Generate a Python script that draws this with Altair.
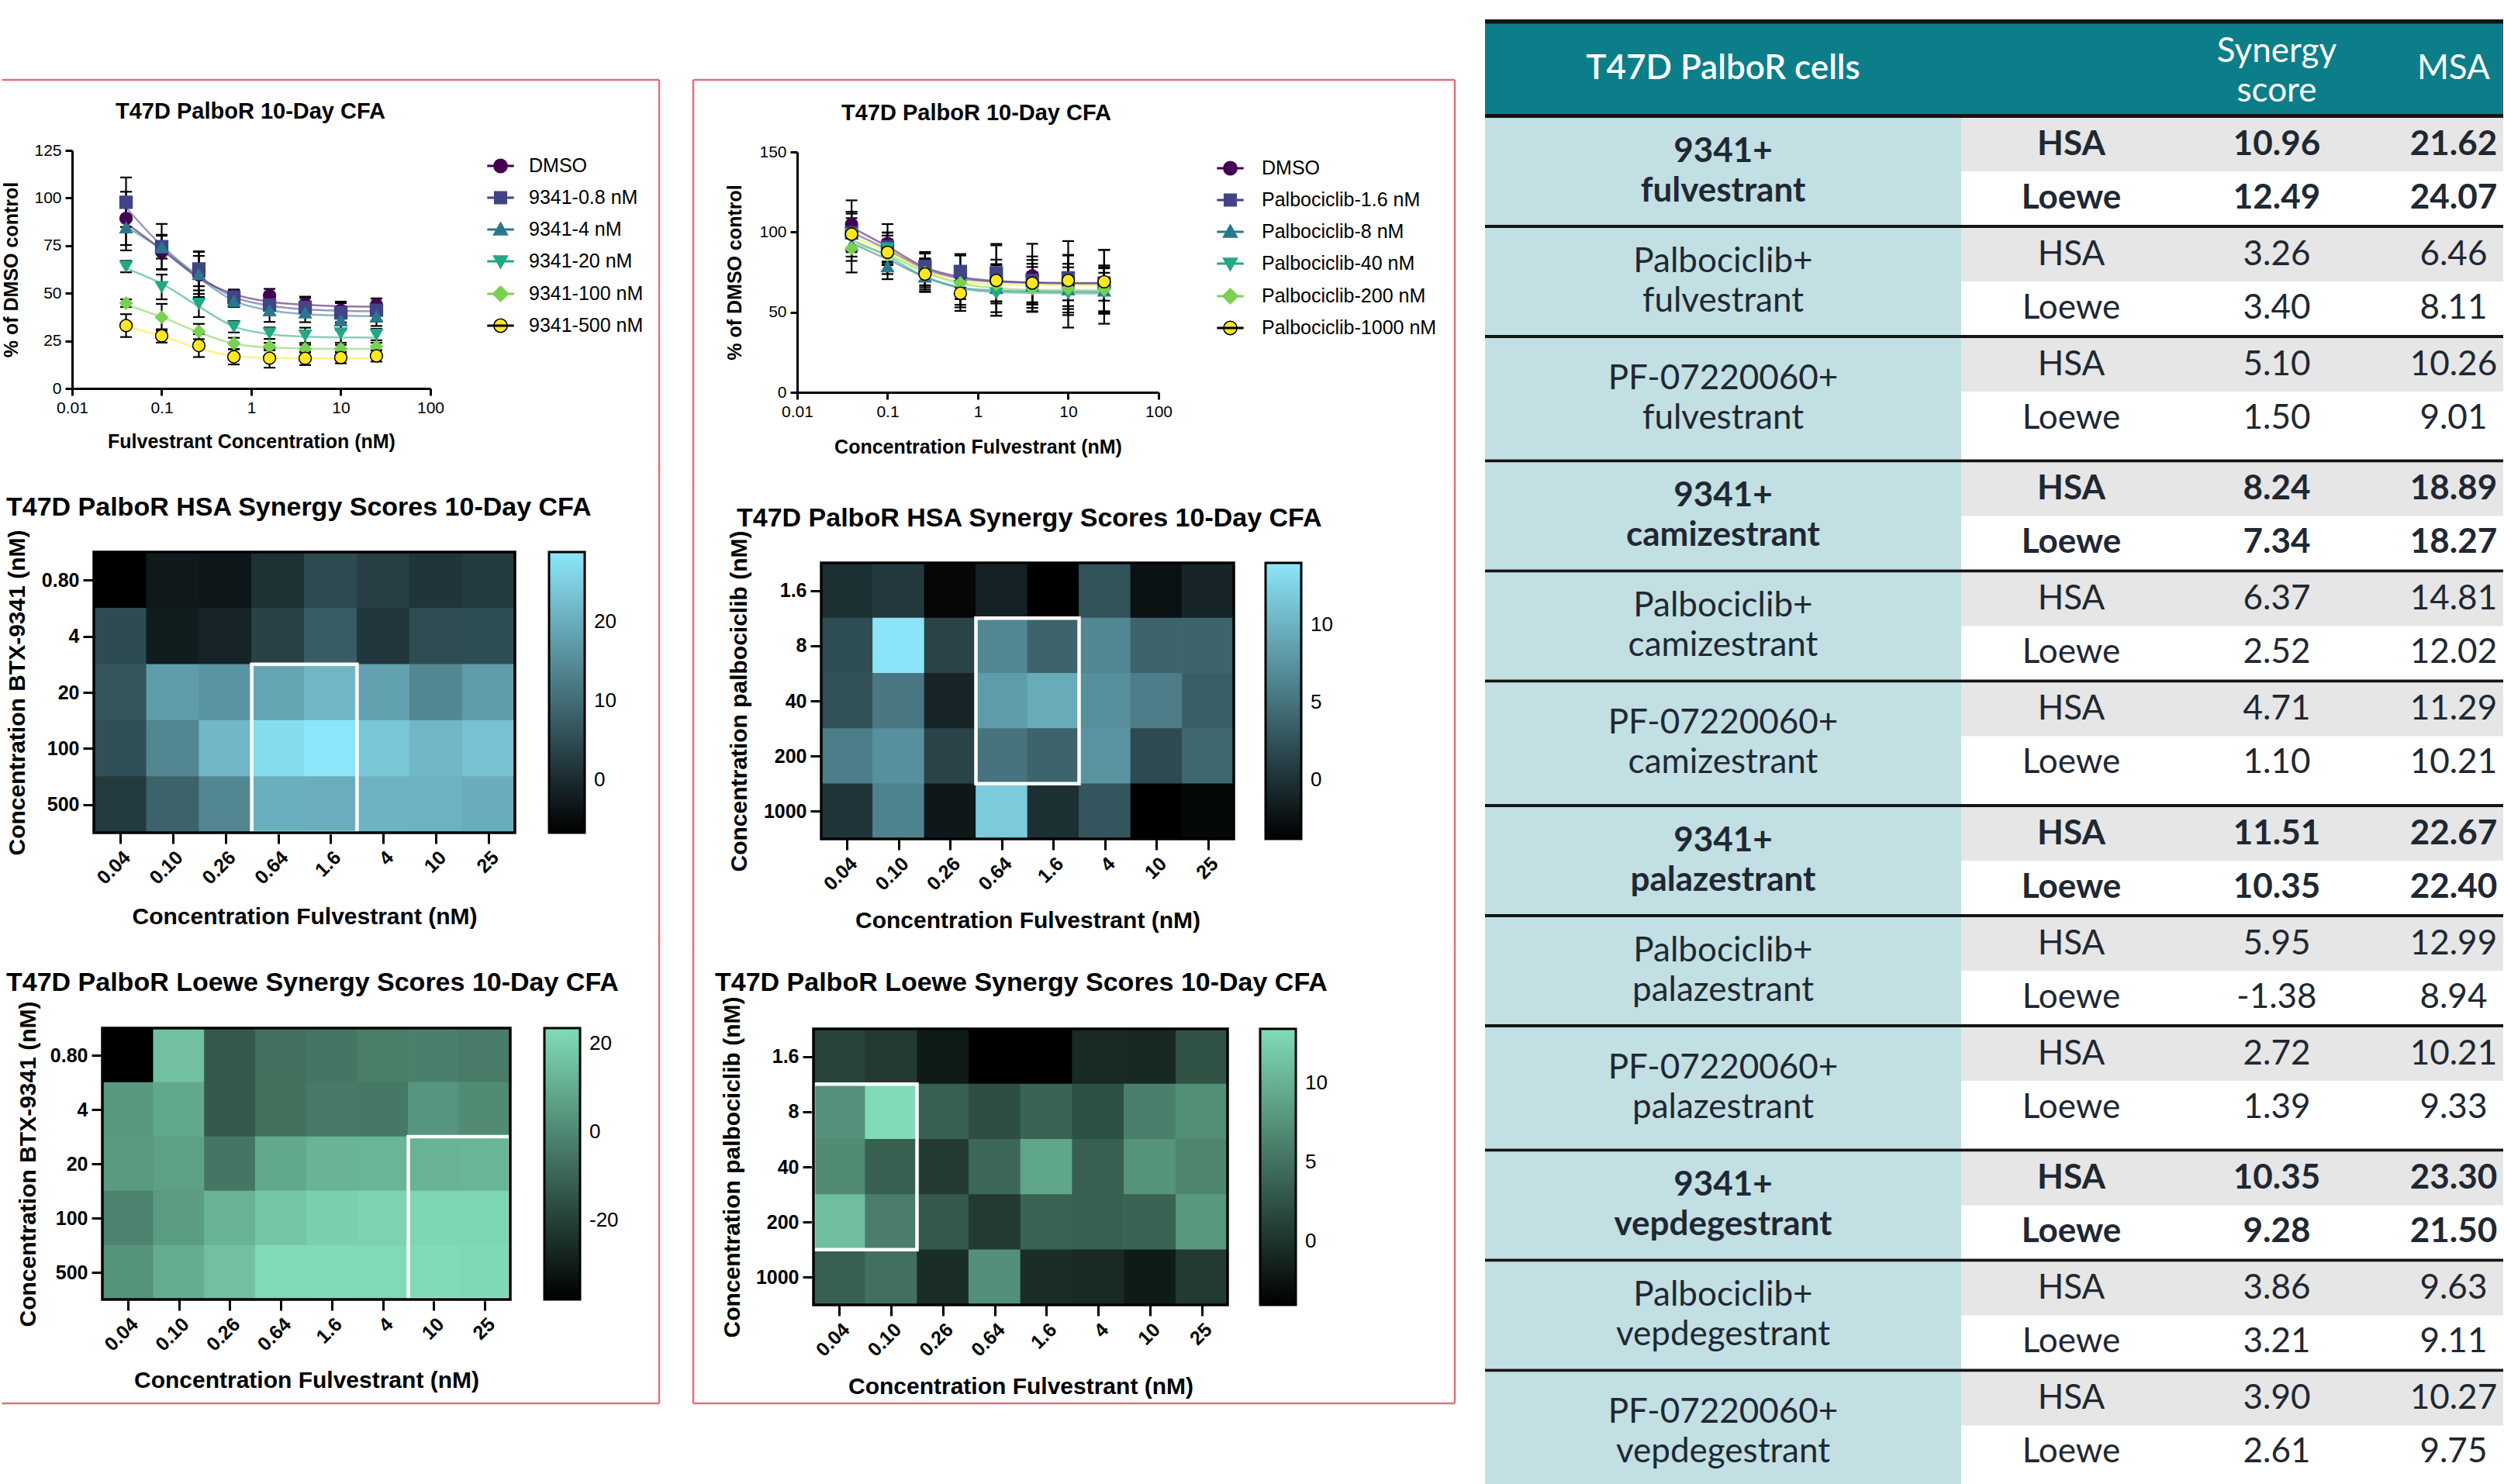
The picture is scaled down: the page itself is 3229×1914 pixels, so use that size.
import json
import altair as alt
import pandas as pd

AX_FONT = "Liberation Sans"
TB_FONT = "Lato"
PANEL_RED = "#e3707a"
INK = "#1f2833"
TEAL = "#0b7e8a"
LIGHT_BLUE = "#c2dfe3"
ROW_GREY = "#e6e6e6"

# ---------------------------------------------------------------- dose-response data
fulvestrant_nM = [0.04, 0.1, 0.26, 0.64, 1.6, 4, 10, 25]
fulvestrant_labels = ["0.04", "0.10", "0.26", "0.64", "1.6", "4", "10", "25"]

series_colors = ["#440154", "#414487", "#2a788e", "#22a884", "#7ad151", "#fde725"]
series_outline = ["#440154", "#414487", "#2a788e", "#22a884", "#7ad151", "#000000"]
marker_shapes = ["circle", "square", "triangle-up", "triangle-down", "diamond", "circle"]

btx_names = ["DMSO", "9341-0.8 nM", "9341-4 nM", "9341-20 nM", "9341-100 nM", "9341-500 nM"]
btx_mean = [
    [89.3, 71.7, 59.6, 48.8, 48.8, 44.2, 41.1, 43.8],
    [97.8, 74.4, 62.7, 47.9, 43.8, 42.5, 39.8, 41.1],
    [84.5, 74.2, 60.0, 45.8, 41.0, 39.8, 35.7, 37.8],
    [64.0, 53.3, 44.5, 32.4, 29.0, 27.9, 29.0, 28.3],
    [44.8, 37.4, 29.9, 23.6, 22.0, 20.9, 20.9, 22.0],
    [33.0, 27.6, 22.5, 16.6, 15.9, 15.8, 16.2, 17.1],
]
btx_sd = [
    [14, 9, 10, 3, 3.5, 4, 4.5, 3.5],
    [13, 12, 9, 4, 5, 5, 5, 6],
    [12, 6, 12, 3, 6, 5, 5, 5],
    [3, 6.5, 7, 3, 3, 4, 5, 3],
    [2, 7, 4, 3, 2, 2, 2, 2],
    [6, 3.5, 6, 4, 5, 3.5, 3, 3],
]
btx_fit = [
    [87, 73, 58, 49.5, 45.5, 44, 43.2, 43],
    [95, 75, 59, 48, 43.5, 41.5, 40.8, 40.5],
    [85, 73, 58, 46, 41, 39, 38.3, 38],
    [63, 55, 43, 32.5, 28.5, 27.2, 26.8, 26.7],
    [44, 37.5, 29.5, 23.5, 21.5, 21, 20.8, 20.8],
    [32.5, 27.5, 21, 17, 16, 15.8, 15.8, 15.8],
]

palbo_names = ["DMSO", "Palbociclib-1.6 nM", "Palbociclib-8 nM", "Palbociclib-40 nM",
               "Palbociclib-200 nM", "Palbociclib-1000 nM"]
palbo_mean = [
    [104.8, 93.0, 74.6, 73.3, 69.8, 72.7, 67.4, 65.8],
    [99.5, 90.6, 78.6, 75.4, 74.6, 69.8, 71.4, 68.2],
    [92.0, 78.6, 72.2, 65.0, 65.0, 66.6, 64.2, 63.4],
    [98.7, 89.8, 73.0, 66.6, 61.8, 64.2, 61.8, 62.6],
    [89.8, 85.8, 74.6, 68.2, 67.4, 65.0, 65.0, 64.2],
    [98.7, 87.4, 73.8, 61.8, 69.8, 68.2, 69.8, 69.0],
]
palbo_sd = [
    [15, 12, 12, 13, 22, 20, 27, 23],
    [12, 9, 9, 10, 18, 15, 14, 11],
    [10, 8, 8, 12, 15, 16, 16, 14],
    [14, 10, 10, 12, 14, 14, 12, 12],
    [15, 12, 9, 10, 12, 10, 13, 14],
    [10, 8, 7, 11, 13, 12, 16, 20],
]
palbo_fit = [
    [103, 91, 78, 72, 69.5, 68.5, 68, 68],
    [100, 89, 77, 71, 69, 68.5, 68.3, 68.2],
    [93, 83, 72, 65.5, 63.5, 63, 62.8, 62.7],
    [95, 85, 72, 65, 62.5, 62, 61.8, 61.7],
    [93, 86, 75, 68, 65, 64, 63.8, 63.7],
    [97, 88, 76, 69, 67.5, 67, 66.8, 66.7],
]

# ---------------------------------------------------------------- synergy matrices
btx_rows = ["0.80", "4", "20", "100", "500"]
palbo_rows = ["1.6", "8", "40", "200", "1000"]

hsa_btx = [
    [-6.7, -2.7, -3.3, 1.0, 4.7, 2.9, 1.5, 2.3],
    [4.9, -2.4, -1.1, 3.5, 7.5, 1.8, 5.0, 5.2],
    [6.4, 17.5, 16.1, 18.9, 21.7, 18.1, 14.1, 17.4],
    [5.5, 14.1, 21.6, 27.3, 28.8, 23.9, 21.4, 23.3],
    [2.3, 8.6, 14.1, 20.3, 20.2, 20.9, 20.8, 19.9],
]
loewe_btx = [
    [-37.9, 15.7, -13.1, -6.6, -5.0, -2.7, -2.2, -3.3],
    [4.5, 9.0, -13.1, -6.4, -3.8, -4.1, 4.0, 0.9],
    [5.1, 6.8, -5.0, 9.0, 12.3, 12.6, 12.1, 12.6],
    [-1.3, 5.4, 11.8, 17.1, 20.2, 21.0, 21.8, 21.8],
    [3.1, 10.4, 15.7, 22.9, 23.5, 22.9, 23.4, 22.7],
]
hsa_palbo = [
    [-0.2, 0.5, -3.3, -1.2, -3.8, 2.6, -2.4, -0.9],
    [2.2, 13.8, 1.4, 6.6, 3.8, 6.6, 3.9, 3.9],
    [2.4, 5.5, -0.9, 8.3, 9.4, 7.3, 5.9, 3.5],
    [5.9, 7.3, 1.4, 5.1, 3.9, 7.6, 1.9, 4.2],
    [0.3, 6.3, -2.0, 11.9, -0.2, 2.8, -3.8, -3.2],
]
loewe_palbo = [
    [1.4, 0.6, -1.9, -4.0, -4.0, -0.7, -0.8, 2.5],
    [7.5, 13.4, 3.6, 2.2, 3.8, 2.3, 6.1, 7.3],
    [7.0, 3.6, 0.6, 4.1, 9.1, 3.6, 7.6, 6.5],
    [11.0, 6.0, 3.1, 0.6, 3.8, 3.6, 3.8, 8.0],
    [3.6, 4.9, -0.4, 7.4, -0.4, -0.7, -1.9, 0.6],
]

# ---------------------------------------------------------------- summary table
partners = ["fulvestrant", "camizestrant", "palazestrant", "vepdegestrant"]
combos = ["9341+", "Palbociclib+", "PF-07220060+"]
hsa_score = [10.96, 3.26, 5.10, 8.24, 6.37, 4.71, 11.51, 5.95, 2.72, 10.35, 3.86, 3.90]
loewe_score = [12.49, 3.40, 1.50, 7.34, 2.52, 1.10, 10.35, -1.38, 1.39, 9.28, 3.21, 2.61]
hsa_msa = [21.62, 6.46, 10.26, 18.89, 14.81, 11.29, 22.67, 12.99, 10.21, 23.30, 9.63, 10.27]
loewe_msa = [24.07, 8.11, 9.01, 18.27, 12.02, 10.21, 22.40, 8.94, 9.33, 21.50, 9.11, 9.75]

ONE = pd.DataFrame({"k": [0]})


# ---------------------------------------------------------------- decoration helpers
def vrule(x, y0, y1, show=True):
    return alt.Chart(ONE).mark_rule(color=PANEL_RED, strokeWidth=2.5, opacity=1 if show else 0).encode(
        x=alt.value(x), y=alt.value(y0), y2=alt.value(y1))


def hrule(y, x0, x1, show=True):
    return alt.Chart(ONE).mark_rule(color=PANEL_RED, strokeWidth=2.5, opacity=1 if show else 0).encode(
        x=alt.value(x0), x2=alt.value(x1), y=alt.value(y))


def heading(text, x, y, size, align):
    return alt.Chart(pd.DataFrame({"t": [text]})).mark_text(
        font=AX_FONT, fontSize=size, fontWeight="bold", color="black", align=align, baseline="middle"
    ).encode(x=alt.value(x), y=alt.value(y), text="t:N")


def legend_path(shape):
    bar = "M-1.9,-0.09H1.9V0.09H-1.9Z"
    paths = {
        "circle": "M-1,0A1,1,0,1,1,1,0A1,1,0,1,1,-1,0Z",
        "square": "M-0.9,-0.9H0.9V0.9H-0.9Z",
        "triangle-up": "M0,-1.05L1.05,0.8H-1.05Z",
        "triangle-down": "M0,1.05L-1.05,-0.8H1.05Z",
        "diamond": "M0,-1.15L1.15,0L0,1.15L-1.15,0Z",
    }
    return bar + " " + paths[shape]


# ---------------------------------------------------------------- dose-response panel
def dose_chart(names, means, sds, fits, y_max, y_step, x_title, W, Hc, H, title, title_xy,
               legend_xy, label_offset, ytitle_x, xtitle_y, deco):
    """Plot area spans Hc px; the data occupy its lowest H px."""
    recs = []
    for k, name in enumerate(names):
        for j, c in enumerate(fulvestrant_nM):
            m, s = means[k][j], sds[k][j]
            recs.append({"series": name, "conc": c, "mean": m, "lo": m - s, "hi": m + s,
                         "fit": fits[k][j]})
    df = pd.DataFrame(recs)

    common = dict(domainColor="black", domainWidth=3, tickColor="black", tickWidth=3, tickSize=9,
                  labelFont=AX_FONT, labelFontSize=21, labelColor="black", labelPadding=5,
                  titleFont=AX_FONT, titleFontSize=25, titleFontWeight="bold", titleColor="black",
                  grid=False, labelFlush=False, labelOverlap=False,
                  titleAlign="center", titleBaseline="middle")
    x_scale = alt.Scale(type="log", domain=[0.01, 100], nice=False)
    y_scale = alt.Scale(domain=[0, y_max], range=[Hc, Hc - H], nice=False, zero=False)
    x_axis = alt.Axis(values=[0.01, 0.1, 1, 10, 100], format="~g", title=x_title,
                      titleX=W / 2, titleY=xtitle_y, **common)
    y_axis = alt.Axis(values=list(range(0, y_max + 1, y_step)), title="% of DMSO control",
                      titleX=ytitle_x, titleY=Hc - H / 2, titleAngle=270, **common)

    X = alt.X("conc:Q", scale=x_scale, axis=x_axis)

    def Y(f):
        return alt.Y(f"{f}:Q", scale=y_scale, axis=y_axis)

    base = alt.Chart(df)
    err = base.mark_rule(color="black", strokeWidth=2.2).encode(x=X, y=Y("lo"), y2="hi:Q")
    cap_lo = base.mark_tick(orient="horizontal", color="black", size=15, thickness=2.2,
                            opacity=1).encode(x=X, y=Y("lo"))
    cap_hi = base.mark_tick(orient="horizontal", color="black", size=15, thickness=2.2,
                            opacity=1).encode(x=X, y=Y("hi"))
    fit = base.mark_line(interpolate="monotone", strokeWidth=2.5, opacity=0.55).encode(
        x=X, y=Y("fit"),
        color=alt.Color("series:N", scale=alt.Scale(domain=names, range=series_colors), legend=None))
    pts = base.mark_point(filled=True, size=250, opacity=1, strokeWidth=1.5).encode(
        x=X, y=Y("mean"),
        color=alt.Color("series:N", scale=alt.Scale(domain=names, range=series_colors), legend=None),
        shape=alt.Shape("series:N", scale=alt.Scale(domain=names, range=marker_shapes), legend=None),
        stroke=alt.Stroke("series:N", scale=alt.Scale(domain=names, range=series_outline), legend=None))

    leg = alt.Legend(orient="none", legendX=legend_xy[0], legendY=legend_xy[1], title=None,
                     labelFont=AX_FONT, labelFontSize=25, labelColor="black", labelLimit=600,
                     symbolSize=300, symbolStrokeWidth=1.5, rowPadding=15,
                     labelOffset=label_offset, padding=0, direction="vertical", symbolOpacity=1)
    key = base.transform_filter("false").mark_point(filled=True, opacity=1, size=300,
                                                    strokeWidth=1.5).encode(
        color=alt.Color("series:N", scale=alt.Scale(domain=names, range=series_colors), legend=leg),
        shape=alt.Shape("series:N", scale=alt.Scale(domain=names,
                                                    range=[legend_path(s) for s in marker_shapes]),
                        legend=leg),
        stroke=alt.Stroke("series:N", scale=alt.Scale(domain=names, range=series_outline), legend=leg))

    ttl = heading(title, title_xy[0], title_xy[1], 29, "center")
    return alt.layer(err, cap_lo, cap_hi, fit, pts, key, ttl, *deco).properties(
        width=W, height=Hc
    ).resolve_scale(color="independent", shape="independent", stroke="independent")


# ---------------------------------------------------------------- synergy heatmap panel
def heat_chart(values, row_labels, y_title, domain, hi_color, ticks, box, dx, W, H, title,
               title_xy, ytitle_x, xtitle_y, legend_x, deco):
    """The grid starts dx px right of the view's left edge."""
    recs = [{"ci": j, "ri": i, "v": values[i][j]}
            for i in range(len(values)) for j in range(len(values[i]))]
    df = pd.DataFrame(recs)
    common = dict(domain=False, grid=False, tickColor="black", tickWidth=3, tickSize=14,
                  labelFont=AX_FONT, labelFontSize=25, labelFontWeight="bold", labelColor="black",
                  labelPadding=5, labelFlush=False, labelOverlap=False,
                  titleFont=AX_FONT, titleFontSize=30, titleFontWeight="bold", titleColor="black",
                  titleAlign="center", titleBaseline="middle")
    xs = alt.Scale(domain=[-0.5, 7.5], range=[dx, dx + W], nice=False, zero=False)
    ys = alt.Scale(domain=[-0.5, 4.5], nice=False, zero=False, reverse=True)
    x_axis = alt.Axis(values=list(range(8)),
                      labelExpr=f"{json.dumps(fulvestrant_labels)}[datum.value]", labelAngle=315,
                      title="Concentration Fulvestrant (nM)", titleX=dx + W / 2, titleY=xtitle_y,
                      **common)
    y_axis = alt.Axis(values=list(range(5)), labelExpr=f"{json.dumps(row_labels)}[datum.value]",
                      title=y_title, titleX=ytitle_x, titleY=H / 2, titleAngle=270, offset=-dx,
                      **common)

    leg = alt.Legend(orient="none", legendX=legend_x, legendY=0, direction="vertical", title=None,
                     gradientLength=H, gradientThickness=46, gradientStrokeColor="black",
                     gradientStrokeWidth=3, values=ticks, labelExpr="toString(datum.value)",
                     labelFont=AX_FONT, labelFontSize=26, labelColor="black", labelOffset=12,
                     labelOverlap=False, padding=0)
    cells = alt.Chart(df).transform_calculate(
        x0="datum.ci - 0.505", x1="datum.ci + 0.505", y0="datum.ri - 0.505", y1="datum.ri + 0.505"
    ).mark_rect().encode(
        x=alt.X("x0:Q", scale=xs, axis=x_axis), x2="x1:Q",
        y=alt.Y("y0:Q", scale=ys, axis=y_axis), y2="y1:Q",
        color=alt.Color("v:Q", scale=alt.Scale(domain=domain, range=["#000000", hi_color],
                                               interpolate="rgb"),
                        legend=leg))
    bdf = pd.DataFrame([{"x0": box[0] - 0.5, "x1": box[1] + 0.5,
                         "y0": box[2] - 0.5, "y1": box[3] + 0.5}])
    outline = alt.Chart(bdf).mark_rect(fillOpacity=0, stroke="white", strokeWidth=4.5).encode(
        x=alt.X("x0:Q", scale=xs, axis=x_axis), x2="x1:Q",
        y=alt.Y("y0:Q", scale=ys, axis=y_axis), y2="y1:Q")
    frame = alt.Chart(ONE).mark_rect(fillOpacity=0, stroke="black", strokeWidth=3.5).encode(
        x=alt.value(dx), x2=alt.value(dx + W), y=alt.value(0), y2=alt.value(H))
    ttl = heading(title, title_xy[0], title_xy[1], 34, "left")
    return alt.layer(cells, outline, frame, ttl, *deco).properties(width=dx + W, height=H)


# ---------------------------------------------------------------- left column (BTX-9341)
curve_l = dose_chart(
    btx_names, btx_mean, btx_sd, btx_fit, 125, 25, "Fulvestrant Concentration (nM)",
    462, 476, 307, "T47D PalboR 10-Day CFA", (230, 119), (540, 176.5), 24, -79, 68,
    [vrule(-93, 0, 575, False), vrule(761.5, 78, 575, False),
     hrule(78, -90.5, 757), vrule(757, 78, 575)])
hsa_l = heat_chart(
    hsa_btx, btx_rows, "Concentration BTX-9341 (nM)", [-6.7, 28.8], "#8ce6fa", [0, 10, 20],
    (3, 4, 2, 4), 28, 543, 362, "T47D PalboR HSA Synergy Scores 10-Day CFA", (-85, -57),
    -99, 108, 615,
    [vrule(-93, -113, 502, False), vrule(757, -113, 502)])
loewe_l = heat_chart(
    loewe_btx, btx_rows, "Concentration BTX-9341 (nM)", [-37.9, 23.5], "#80dcb8", [-20, 0, 20],
    (6, 7, 2, 4), 39, 526, 350, "T47D PalboR Loewe Synergy Scores 10-Day CFA", (-85, -58),
    -96, 104, 609,
    [vrule(-93, -113, 484, False), vrule(757, -113, 484), hrule(484, -90.5, 757)])

# ---------------------------------------------------------------- middle column (palbociclib)
curve_m = dose_chart(
    palbo_names, palbo_mean, palbo_sd, palbo_fit, 150, 50, "Concentration Fulvestrant (nM)",
    466, 481, 310, "T47D PalboR 10-Day CFA", (231, 121), (546, 179.5), 28, -81, 70,
    [vrule(-134, 0, 78, False), vrule(-134, 78, 595), vrule(848, 78, 595),
     hrule(78, -134, 848)])
hsa_m = heat_chart(
    hsa_palbo, palbo_rows, "Concentration palbociclib (nM)", [-3.8, 14.0], "#8ce6fa", [0, 5, 10],
    (3, 4, 1, 3), 31, 532, 356, "T47D PalboR HSA Synergy Scores 10-Day CFA", (-78, -57),
    -106, 105, 604,
    [vrule(-134, -107, 498), vrule(848, -107, 498)])
loewe_m = heat_chart(
    loewe_palbo, palbo_rows, "Concentration palbociclib (nM)", [-4.0, 13.4], "#80dcb8", [0, 5, 10],
    (0, 1, 1, 3), 21, 534, 356, "T47D PalboR Loewe Synergy Scores 10-Day CFA", (-106, -59),
    -105, 105, 597,
    [vrule(-134, -104, 483), vrule(848, -104, 483), hrule(483, -134, 848)])

# ---------------------------------------------------------------- summary table
TBL_W, TBL_H = 1313, 1889
ROW = 69.0                      # one table row in px
LINE = 51.0                     # line spacing of two-line labels in px
HEADER = 127 / ROW
TEAL_TOP, TEAL_BOT = 5.5 / ROW, 122 / ROW
RULE = 4 / ROW
PF_PAD = 18.5 / ROW
TOTAL = TBL_H / ROW
COL_SPLIT, X_LABEL, X_METHOD, X_SCORE, X_MSA = 0.4676, 0.2338, 0.5758, 0.7776, 0.9512

rects = [dict(x0=0, x1=1, y0=0, y1=HEADER, fill="#151515"),
         dict(x0=0, x1=1, y0=TEAL_TOP, y1=TEAL_BOT, fill=TEAL)]
texts = [dict(xp=X_LABEL, yp=64 / ROW, label="T47D PalboR cells", tc="white", w="head"),
         dict(xp=X_SCORE, yp=(67.5 - LINE / 2) / ROW, label="Synergy\nscore", tc="white", w="light"),
         dict(xp=X_MSA, yp=64 / ROW, label="MSA", tc="white", w="light")]
top = HEADER
for g in range(len(partners) * len(combos)):
    combo, partner = combos[g % 3], partners[g // 3]
    weight = "bold" if g % 3 == 0 else "light"
    end = top + 2 + (PF_PAD if g % 3 == 2 else 0)
    rects.append(dict(x0=0, x1=COL_SPLIT, y0=top, y1=min(end, TOTAL), fill=LIGHT_BLUE))
    rects.append(dict(x0=COL_SPLIT, x1=1, y0=top, y1=top + 1, fill=ROW_GREY))
    if end < TOTAL:
        rects.append(dict(x0=0, x1=1, y0=end, y1=end + RULE, fill="#151515"))
    texts.append(dict(xp=X_LABEL, yp=(top + end) / 2 - (LINE / 2) / ROW,
                      label=f"{combo}\n{partner}", tc=INK, w=weight))
    for r, (meth, sc, ms) in enumerate([("HSA", hsa_score[g], hsa_msa[g]),
                                         ("Loewe", loewe_score[g], loewe_msa[g])]):
        yc = top + r + 0.5
        texts.append(dict(xp=X_METHOD, yp=yc, label=meth, tc=INK, w=weight))
        texts.append(dict(xp=X_SCORE, yp=yc, label=f"{sc:.2f}", tc=INK, w=weight))
        texts.append(dict(xp=X_MSA, yp=yc, label=f"{ms:.2f}", tc=INK, w=weight))
    top = end + RULE

txs = alt.Scale(domain=[0, 1], nice=False, zero=False)
tys = alt.Scale(domain=[0, TOTAL], nice=False, zero=False, reverse=True)
tbl_rects = alt.Chart(pd.DataFrame(rects)).mark_rect().encode(
    x=alt.X("x0:Q", scale=txs, axis=None), x2="x1:Q",
    y=alt.Y("y0:Q", scale=tys, axis=None), y2="y1:Q",
    color=alt.Color("fill:N", scale=None))
tdf = pd.DataFrame(texts)
tbl_layers = [tbl_rects]
for w, fw in [("head", 600), ("light", 400), ("bold", "bold")]:
    tbl_layers.append(
        alt.Chart(tdf[tdf.w == w]).mark_text(
            font=TB_FONT, fontSize=44, fontWeight=fw, align="center", baseline="middle",
            lineBreak="\n", lineHeight=LINE
        ).encode(x=alt.X("xp:Q", scale=txs, axis=None), y=alt.Y("yp:Q", scale=tys, axis=None),
                 text="label:N", color=alt.Color("tc:N", scale=None)))
table = alt.layer(*tbl_layers).properties(width=TBL_W, height=TBL_H)

# ---------------------------------------------------------------- figure
own = dict(color="independent", shape="independent", stroke="independent")
left_col = alt.vconcat(curve_l, hsa_l, loewe_l, spacing=-5).resolve_scale(**own)
mid_col = alt.vconcat(curve_m, hsa_m, loewe_m, spacing=-5).resolve_scale(**own)
chart = alt.hconcat(left_col, mid_col, table, spacing=37).resolve_scale(**own).properties(
    padding={"left": 0, "top": 25, "right": 0, "bottom": 0}, background="white"
).configure_view(strokeWidth=0)

chart.save("out.html", embed_options={"renderer": "svg", "actions": False})
